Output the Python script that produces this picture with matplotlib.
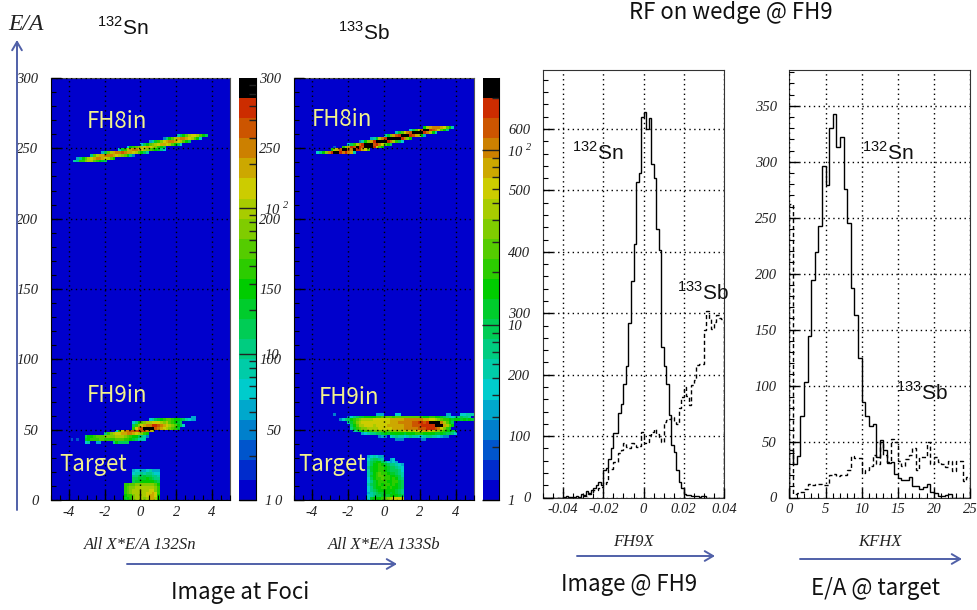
import numpy as np
import matplotlib
matplotlib.use("Agg")
import matplotlib.pyplot as plt
from matplotlib.colors import ListedColormap, BoundaryNorm
from matplotlib.patches import FancyArrowPatch
from matplotlib.ticker import MultipleLocator, FixedLocator, NullFormatter, FuncFormatter

plt.rcParams["font.family"] = ["Liberation Serif"]
plt.rcParams["font.style"] = "italic"
plt.rcParams["mathtext.fontset"] = "custom"
plt.rcParams["mathtext.rm"] = "Liberation Sans:style=normal"
# bf slot used for the italic serif colour bar exponent, digits in it come out upright otherwise
plt.rcParams["mathtext.bf"] = "Liberation Serif:italic"

W, H = 978, 610
NCOL, NROW = 64, 150

palette = ["#0000cc", "#002ccc", "#0055cc", "#0080cc", "#00a8cc", "#00cccc", "#00cca8",
           "#00cc80", "#00cc55", "#00cc2c", "#00cc00", "#2ccc00", "#55cc00", "#80cc00",
           "#a8cc00", "#cccc00", "#cca800", "#cc8000", "#cc5500", "#cc2c00", "#000000"]
level_chars = "0123456789abcdefghijk"

# colour level of each cell: first row, first column of each row, rows
a_fh8_first = 120
a_fh8_cols = [8, 9, 14, 18, 24, 27, 32, 35, 40, 45]
a_fh8 = ["67bbdeecba98", "47acefghhgfeca", "7cegghhhgfedca73", "48ceghhihggfeca86",
         "59beghhgfedcba975", "5abcdefgfedba8", "58acdefggfeca85", "469bdfghhgfeca8",
         "37aceghhgfeca5", "68aceffeca8"]

a_fh9_first = 20
a_fh9_cols = [12, 7, 12, 19, 23, 29, 29, 29, 35, 50]
a_fh9 = ["56004400007a8888", "202009abbbccbbbbcccbba98666", "8aabcccddddeeedcbaa8763",
         "7bdeffgghhgfedba", "5bfhhiiijiihge", "bfhikkkkihgfedcb9", "8bdfghhjjihgfedca85",
         "57acdeefffedecba98", "5689abccbaa986544", "44"]

a_tgt_first = 0
a_tgt_cols = [26, 26, 26, 26, 26, 26, 29, 29, 29, 29, 29]
a_tgt = ["9abdeeedeggea", "abbdeeeefggfa", "bcdeeeeeffgfb", "bcdeeeeeeffdb",
         "bcddeeeeeeedb", "bbccdddddddca", "899aaaaa98", "88999a9877", "7788988776",
         "5667677655", "4554456444"]

b_fh8_first = 123
b_fh8_cols = [8, 13, 14, 19, 23, 27, 32, 36, 41, 46]
b_fh8 = ["57adhjkkjhjhg6", "aegikkihkjjgfc", "200bdgjikjikkkjfca", "58behjkkkijhfca8",
         "36adgjkkkkjheb85", "469ehjkkkkkjhda", "69dgijkkkjigea4", "69cfhikkkkjhea6",
         "58cfikkjihfca7", "aeghhhgfca6"]

b_fh9_first = 21
b_fh9_cols = [36, 30, 24, 21, 20, 20, 19, 16, 19, 14]
b_fh9 = ["33300000033", "3430567665676655677665433", "45677889a9aaaaa9aaabbbaaaa99a98875",
         "679abbbccccccddddeeeeefffggfeedcbaa98", "79bcddeeeefffffgggghhhhhiiijjjihfdb9",
         "8aceefffeffffgggggghhhiiijjjjjkkkgeca", "69bdeffffffffffggghhhhhiijjijkkkkheca8",
         "3578abcdeeeeffffffggggghhhhhhhggffedcbba9aa9a9a98",
         "357899aaaabbccccbcccccccccbaabbaa98765678776",
         "30000000000000044400005500000000000000004400055666"]

b_tgt_first = 0
b_tgt_cols = [26] * 16
b_tgt = ["59aaabcdefffe", "56788999aaa98", "467899aa9a987",
         "5789aaaaaa987", "579aabbabaa98", "689ababbaba98",
         "579abbbaabb98", "58abbcbbaba87", "69abccbbaa986", "68abcbba99876", "69aabba988875",
         "79aabba988765", "68aaba9877654", "689aa875454", "5788760045", "456544"]

# solid and dashed spectra, bin width 0.00125 from -0.05
fh9_edges = [-0.05 + 0.00125 * i for i in range(73)]
fh9_sn = [0, 0, 0, 0, 0, 0, 0, 0, 1, 2, 1, 1, 1, 2, 1, 5, 4, 10, 8, 12, 15, 20, 25, 20, 45, 48,
          62, 80, 105, 105, 137, 153, 185, 214, 284, 352, 412, 513, 528, 620,
          627, 600, 618, 543, 520, 437, 403, 245, 214, 185, 134, 85, 74, 45, 25, 15, 6,
          4, 4, 3, 3, 2, 1, 2, 3, 0, 0, 0, 0, 0, 0, 0]
fh9_sb = [0, 0, 0, 0, 0, 0, 0, 0, 0, 0, 0, 0, 0, 0, 0, 2, 3, 3, 5, 8, 12, 12, 15, 17, 20, 25,
          47, 47, 58, 58, 72, 78, 88, 83, 80, 88, 85, 83, 84, 107, 88, 90, 102, 106,
          112, 104, 98, 91, 123, 126, 128, 131, 125, 120, 145, 164, 180, 165, 150, 183,
          191, 216, 217, 218, 273, 303, 290, 275, 285, 297, 292, 290]

kf_edges = [0.5 * i for i in range(51)]
kf_sn = [42, 30, 37, 73, 103, 144, 194, 219, 243, 296, 279, 330, 343, 313, 322, 276, 245,
         187, 163, 125, 85, 73, 64, 66, 36, 51, 42, 31, 32, 21, 17, 16, 16, 18, 10, 10, 8,
         9, 12, 5, 4, 1, 1, 2, 3, 0, 0, 0, 0, 0]
kf_sb = [262, 3, 4, 5, 8, 12, 11, 12, 12, 11, 11, 20, 21, 19, 20, 20, 25, 37, 35, 35, 22, 25,
         28, 38, 30, 50, 38, 32, 52, 50, 33, 28, 34, 38, 44, 25, 36, 36, 50, 30, 36, 32, 30,
         27, 33, 24, 33, 33, 15, 18]

a_bar_max = 776
b_bar_max = 259

TICK = "#222222"
ARROW = "#5060a8"
LABEL = "#f2f28a"


def make_ax(x0, y0, x1, y1):
    return fig.add_axes([x0 / W, 1 - y1 / H, (x1 - x0) / W, (y1 - y0) / H])


def put_text(x, y, s, **kw):
    kw.setdefault("ha", "left")
    kw.setdefault("va", "center")
    fig.text(x / W, 1 - y / H, s, **kw)


def style(ax, xmajor, xminor, ymajor, yminor):
    ax.xaxis.set_major_locator(MultipleLocator(xmajor))
    ax.xaxis.set_minor_locator(MultipleLocator(xminor))
    ax.yaxis.set_major_locator(MultipleLocator(ymajor))
    ax.yaxis.set_minor_locator(MultipleLocator(yminor))
    ax.tick_params(which="major", direction="in", length=7, width=1, color="k",
                   labelsize=10.5, labelcolor=TICK)
    ax.tick_params(axis="x", which="major", pad=4)
    ax.tick_params(axis="y", which="major", pad=9)
    ax.tick_params(which="minor", direction="in", length=3.5, width=0.8, color="k")
    ax.grid(True, which="major", color="k", linewidth=1, linestyle=(0, (1, 2.5)))
    ax.set_axisbelow(False)


def draw_map(ax, parts):
    grid = np.zeros((NROW, NCOL), dtype=int)
    for first, cols, rows in parts:
        for i, (c, row) in enumerate(zip(cols, rows)):
            for j, ch in enumerate(row):
                if c + j < NCOL:
                    grid[first + i, c + j] = level_chars.index(ch)
    xe = np.linspace(-5, 5, NCOL + 1)
    ye = np.linspace(0, 300, NROW + 1)
    ax.pcolormesh(xe, ye, grid, cmap=cmap, norm=norm)
    ax.set_xlim(-5, 5)
    ax.set_ylim(0, 300)
    style(ax, 2, 0.5, 50, 10)
    ax.xaxis.set_major_formatter(FuncFormatter(lambda v, p: "%d" % v))
    for s in ["top", "right"]:
        ax.spines[s].set_linewidth(0.8)
        ax.spines[s].set_color("#555555")


def draw_bar(ax, vmax):
    edges = np.logspace(0, np.log10(vmax), len(palette) + 1)
    ax.pcolormesh([0, 1], edges, np.arange(len(palette)).reshape(-1, 1), cmap=cmap, norm=norm)
    ax.set_yscale("log")
    ax.set_ylim(1, vmax)
    ax.set_xticks([])
    ax.yaxis.tick_right()
    ax.yaxis.set_major_locator(FixedLocator([1, 10, 100]))
    minors = [m * d for d in (1, 10, 100) for m in range(2, 10) if m * d < vmax]
    ax.yaxis.set_minor_locator(FixedLocator(minors))
    ax.yaxis.set_minor_formatter(NullFormatter())
    ax.set_yticklabels(["1", "10", r"$\mathbf{10}^{\ \mathbf{2}}$"])
    ax.tick_params(which="major", direction="in", length=12, width=1, color="#222222", pad=6,
                   labelsize=10.5, labelcolor=TICK)
    ax.tick_params(which="minor", direction="in", length=5, width=1, color="#222222")
    for s in ["top", "left"]:
        ax.spines[s].set_visible(False)


def draw_hist(ax, edges, sn, sb, xlim, ylim, ticks):
    ax.stairs(sn, edges, color="k", linewidth=1)
    ax.stairs(sb, edges, color="k", linewidth=1, linestyle=(0, (3, 2)))
    ax.set_xlim(*xlim)
    ax.set_ylim(*ylim)
    style(ax, *ticks)
    for s in ax.spines.values():
        s.set_color("#333333")


def arrow(x0, y0, x1, y1):
    fig.add_artist(FancyArrowPatch(
        (x0 / W, 1 - y0 / H), (x1 / W, 1 - y1 / H), transform=fig.transFigure,
        arrowstyle="->,head_length=6,head_width=3.5", color=ARROW, linewidth=1.4,
        shrinkA=0, shrinkB=0, mutation_scale=1))


cmap = ListedColormap(palette)
norm = BoundaryNorm(np.arange(len(palette) + 1) - 0.5, len(palette))

fig = plt.figure(figsize=(W / 100, H / 100), dpi=100, facecolor="white")

ax1 = make_ax(51, 78, 230, 500)
draw_map(ax1, [(a_fh8_first, a_fh8_cols, a_fh8), (a_fh9_first, a_fh9_cols, a_fh9),
               (a_tgt_first, a_tgt_cols, a_tgt)])
bar1 = make_ax(239, 78, 256, 500)
draw_bar(bar1, a_bar_max)

ax2 = make_ax(294, 78, 474, 500)
draw_map(ax2, [(b_fh8_first, b_fh8_cols, b_fh8), (b_fh9_first, b_fh9_cols, b_fh9),
               (b_tgt_first, b_tgt_cols, b_tgt)])
bar2 = make_ax(483, 78, 499, 500)
draw_bar(bar2, b_bar_max)

ax3 = make_ax(543, 70, 724, 497.5)
draw_hist(ax3, fh9_edges, fh9_sn, fh9_sb, (-0.05, 0.04), (0, 696), (0.02, 0.005, 100, 20))
ax3.xaxis.set_major_formatter(FuncFormatter(lambda v, p: "0" if abs(v) < 1e-9 else "%.2f" % v))

ax4 = make_ax(789.5, 70, 970, 497.5)
draw_hist(ax4, kf_edges, kf_sn, kf_sb, (0, 25), (0, 382), (5, 1, 50, 10))

# hand labels on the slide
big = dict(fontsize=15, family="Liberation Sans", style="normal", color="#111111")
put_text(97, 28, r"$^{132}\mathrm{Sn}$", **big)
put_text(338, 33, r"$^{133}\mathrm{Sb}$", **big)
put_text(572, 153, r"$^{132}\mathrm{Sn}$", **big)
put_text(677, 292, r"$^{133}\mathrm{Sb}$", **big)
put_text(862, 152, r"$^{132}\mathrm{Sn}$", **big)
put_text(896, 392, r"$^{133}\mathrm{Sb}$", **big)

put_text(8, 25, "E/A", fontsize=17, family="Liberation Serif", color="#222222")

cjk = dict(fontsize=16, family="Noto Sans CJK JP", style="normal", color="#111111")
put_text(629, 12, "RF on wedge @ FH9", **cjk)
put_text(171, 593, "Image at Foci", **cjk)
put_text(561, 585, "Image @ FH9", **cjk)
put_text(811, 589, "E/A @ target", **cjk)

inset = dict(fontsize=16, family="Noto Sans CJK JP", style="normal", color=LABEL)
put_text(87, 122, "FH8in", **inset)
put_text(87, 396, "FH9in", **inset)
put_text(59, 465, "Target", **inset)
put_text(312, 120, "FH8in", **inset)
put_text(319, 397, "FH9in", **inset)
put_text(298, 465, "Target", **inset)

axis_lab = dict(fontsize=12, family="Liberation Serif", color="#222222")
put_text(84, 545, "All X*E/A 132Sn", **axis_lab)
put_text(328, 545, "All X*E/A 133Sb", **axis_lab)
put_text(613, 542, "FH9X", **axis_lab)
put_text(858, 542, "KFHX", **axis_lab)

arrow(17, 510, 17, 40)
arrow(127, 564, 397, 564)
arrow(577, 556, 715, 556)
arrow(800, 559, 962, 559)

fig.savefig("out.png", dpi=100)
